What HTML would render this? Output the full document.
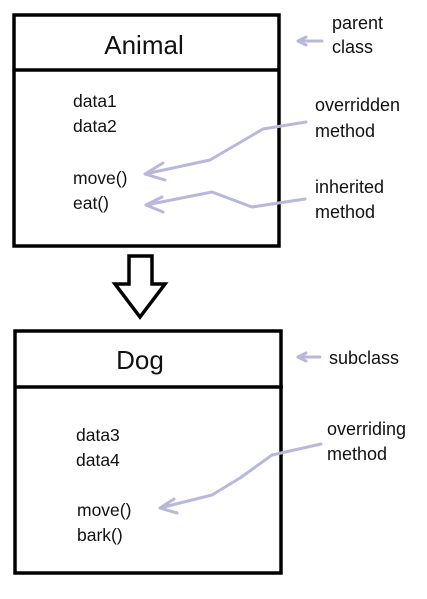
<!DOCTYPE html>
<html><head><style>
html,body{margin:0;padding:0;background:#fff;width:427px;height:599px;overflow:hidden}
svg{display:block}
text{font-family:"Liberation Sans",sans-serif;fill:#111}
</style></head><body>
<svg width="427" height="599" viewBox="0 0 427 599">
<g fill="none" stroke="#000" stroke-width="3.5">
<rect x="14" y="15" width="265" height="231"/>
<line x1="13" y1="70" x2="280" y2="70"/>
<rect x="15" y="331" width="266" height="242"/>
<line x1="15" y1="387" x2="283" y2="387"/>
</g>
<polygon points="129,256 152,256 152,284 165,284 140,317 115,284 129,284" fill="#fff" stroke="#000" stroke-width="3.5" stroke-linejoin="miter"/>
<text x="144" y="54" font-size="26" text-anchor="middle">Animal</text>
<text x="140" y="369" font-size="26" text-anchor="middle">Dog</text>
<g font-size="17.5">
<text x="73" y="107">data1</text><text x="73" y="132">data2</text>
<text x="73" y="184">move()</text><text x="73" y="209">eat()</text>
<text x="76" y="441">data3</text><text x="76" y="466">data4</text>
<text x="77" y="516">move()</text><text x="77" y="541">bark()</text>
</g>
<g font-size="18">
<text x="332" y="29">parent</text><text x="332" y="53">class</text>
<text x="315" y="111">overridden</text><text x="315" y="137">method</text>
<text x="315" y="193">inherited</text><text x="315" y="218">method</text>
<text x="329" y="364">subclass</text>
<text x="327" y="435">overriding</text><text x="327" y="460">method</text>
</g>
<g fill="none" stroke="#b8b8dc" stroke-width="3" stroke-linecap="round" stroke-linejoin="round">
<path d="M322,41 L298,41 M298,41 L306,37 M298,41 L306,45"/>
<path d="M320,357 L298,357 M298,357 L306,353 M298,357 L306,361"/>
<path d="M306,122 L263,129 L210,160 L145,174 M145,174 L163,163 M145,174 L165,180"/>
<path d="M305,199 L252,207 L212,192 L146,205 M146,205 L162,197 M146,205 L163,212"/>
<path d="M321,444 L272,455 L240,478 L212,495 L160,508 M160,508 L174,499 M160,508 L177,513"/>
</g>
</svg>
</body></html>
